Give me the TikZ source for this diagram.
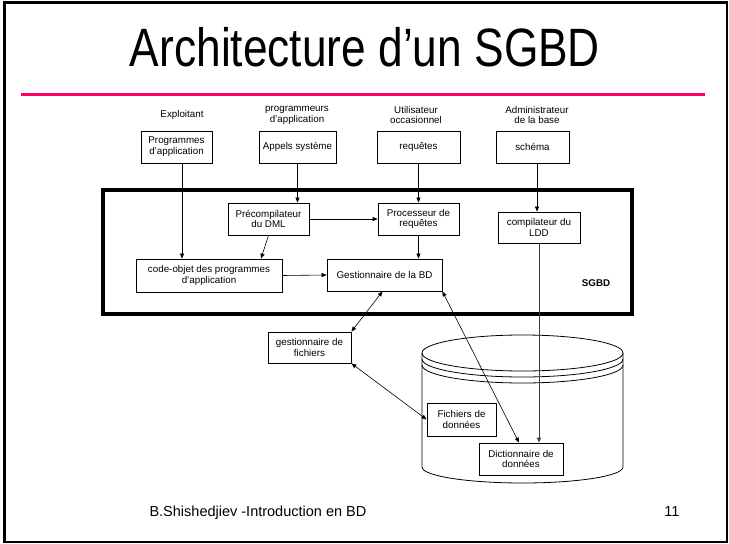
\documentclass[tikz,border=0pt]{standalone}
\usepackage{fontspec}
\setmainfont{Liberation Sans}
\newfontfamily\titrefont[FakeStretch=0.82]{Liberation Sans}
\usetikzlibrary{arrows.meta}

\begin{document}
\begin{tikzpicture}[x=1pt,y=-1pt,
    boite/.style={draw,fill=white,line width=0.8pt,align=center,inner sep=1pt,font=\fontsize{9.8}{10.8}\selectfont},
    acteur/.style={align=center,inner sep=0pt,font=\fontsize{9.8}{10.8}\selectfont},
    fleche/.style={line width=0.6pt,-{Triangle[length=5pt,width=4pt]}},
    dfleche/.style={line width=0.6pt,{Triangle[length=5pt,width=4pt]}-{Triangle[length=5pt,width=4pt]}}]
        \useasboundingbox (0,0) rectangle (729,544);
        \draw[line width=2.5pt] (4.5,2.5) rectangle (727,542);
        \node[font=\titrefont\fontsize{54}{60}\selectfont,anchor=base] (titre) at (365,66) {Architecture d’un SGBD};
        \draw[line width=3pt,color={rgb,255:red,255;green,0;blue,102}] (21,94) -- (705,94);
        \node[acteur] (exploitant) at (182,115) {Exploitant};
        \node[acteur] (programmeurs) at (297,115) {programmeurs\\d’application};
        \node[acteur] (utilisateur) at (416,115) {Utilisateur\\occasionnel};
        \node[acteur] (admin) at (537,115) {Administrateur\\de la base};
        \node[boite,minimum width=71pt,minimum height=32pt] (prog) at (176.5,147) {Programmes\\d’application};
        \node[boite,minimum width=77pt,minimum height=32pt] (appels) at (297.5,147) {Appels système};
        \node[boite,minimum width=83pt,minimum height=32pt] (req) at (418.5,147) {requêtes};
        \node[boite,minimum width=73pt,minimum height=32pt] (schema) at (532.5,147) {schéma};
        \draw[line width=4.5pt] (103,190) rectangle (632,314);
        \node[boite,minimum width=81pt,minimum height=32pt] (precomp) at (268.5,219) {Précompilateur\\du DML};
        \node[boite,minimum width=81pt,minimum height=32pt] (proc) at (418.5,219) {Processeur de\\requêtes};
        \node[boite,minimum width=82pt,minimum height=31pt] (ldd) at (539,227.5) {compilateur du\\LDD};
        \node[boite,minimum width=146pt,minimum height=33pt] (code) at (209,275.5) {code-objet des programmes\\d’application};
        \node[boite,minimum width=115pt,minimum height=32pt] (gest) at (384.5,275) {Gestionnaire de la BD};
        \node[font=\bfseries\fontsize{9.8}{10.8}\selectfont] (sgbd) at (596,283) {SGBD};
        \draw[line width=0.8pt] (522.5,353) ellipse (100.5 and 18);
        \draw[line width=0.8pt] (422,359) arc[start angle=180,end angle=0,x radius=100.5,y radius=18];
        \draw[line width=0.8pt] (422,365) arc[start angle=180,end angle=0,x radius=100.5,y radius=18];
        \draw[line width=0.8pt] (422,353) -- (422,467) arc[start angle=180,end angle=0,x radius=100.5,y radius=16] -- (623,353);
        \node[boite,minimum width=83pt,minimum height=31pt] (gfich) at (309.5,347.5) {gestionnaire de\\fichiers};
        \node[boite,minimum width=69pt,minimum height=33pt] (fich) at (461.5,419.5) {Fichiers de\\données};
        \node[boite,minimum width=84pt,minimum height=32pt] (dict) at (521,459) {Dictionnaire de\\données};
        \draw[fleche] ([xshift=5.5pt]prog.south) -- ([xshift=5.5pt]prog.south |- code.north);
        \draw[fleche] (appels.south) -- (appels.south |- precomp.north);
        \draw[fleche] (req.south) -- (proc.north);
        \draw[fleche] ([xshift=4.5pt]schema.south) -- ([xshift=4.5pt]schema.south |- ldd.north);
        \draw[fleche] (precomp.east) -- (proc.west);
        \draw[fleche] (precomp.south) -- ([xshift=52pt]code.north);
        \draw[fleche] (proc.south) -- (proc.south |- gest.north);
        \draw[fleche] (code.east) -- (gest.west);
        \draw[fleche,line width=1pt,black!75] (ldd.south) -- (ldd.south |- dict.north);
        \draw[dfleche] ([xshift=-2pt]gest.south) -- (gfich.north east);
        \draw[dfleche] (gest.south east) -- ([xshift=-2pt]dict.north);
        \draw[dfleche] (gfich.south east) -- (fich.west);
        \node[anchor=base west,font=\fontsize{14.5}{16}\selectfont] (auteur) at (146,516) {B.Shishedjiev -Introduction en BD};
        \node[anchor=base east,font=\fontsize{14.5}{16}\selectfont] (page) at (683,516) {11};
\end{tikzpicture}
\end{document}
